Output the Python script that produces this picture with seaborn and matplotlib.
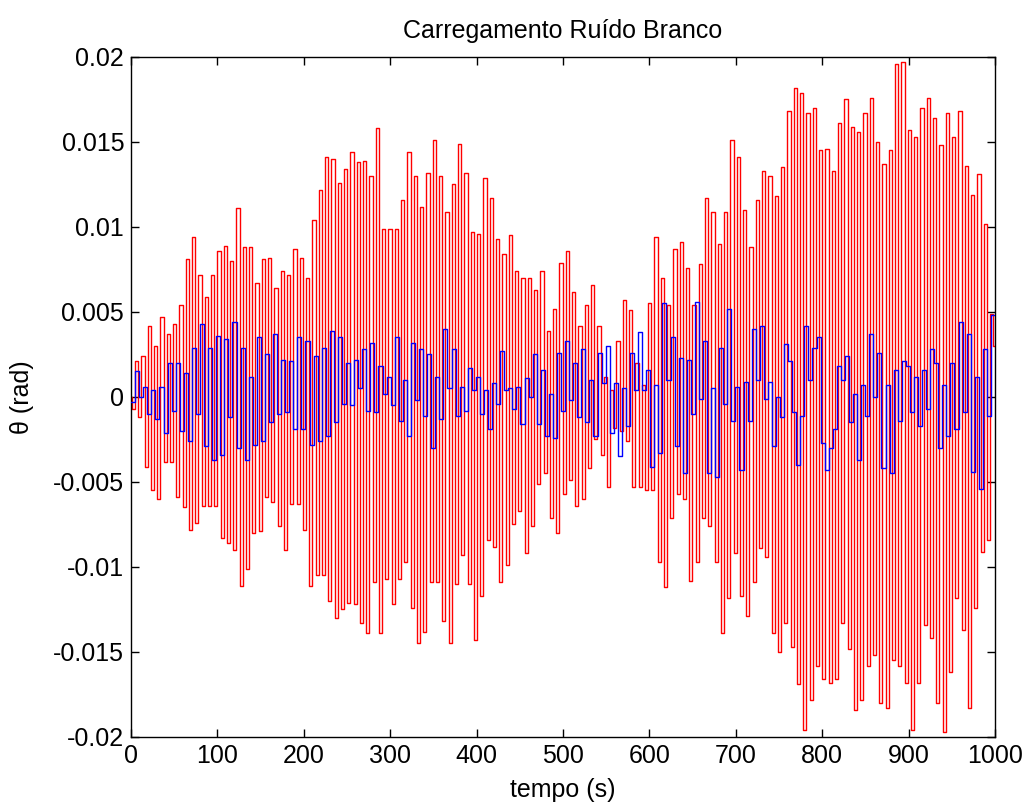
import numpy as np
import matplotlib
matplotlib.use("Agg")
import matplotlib.pyplot as plt
import seaborn as sns

# ---------------- data ----------------
# red series: per-cycle minima and maxima (rad)
red_bottoms = [
    -0.0007, -0.0012, -0.0041, -0.0055, -0.0060, -0.0038, -0.0038, -0.0059, -0.0065, -0.0078,
    -0.0074, -0.0064, -0.0064, -0.0064, -0.0083, -0.0086, -0.0090, -0.0111, -0.0101, -0.0080,
    -0.0079, -0.0059, -0.0062, -0.0076, -0.0090, -0.0063, -0.0063, -0.0078, -0.0111, -0.0105,
    -0.0105,
    -0.0120, -0.0130, -0.0125, -0.0121, -0.0122, -0.0133, -0.0139, -0.0109, -0.0139, -0.0107,
    -0.0122, -0.0107, -0.0097, -0.0124, -0.0145, -0.0138, -0.0109, -0.0109, -0.0132, -0.0145,
    -0.0110, -0.0093, -0.0110, -0.0143, -0.0117, -0.0084, -0.0088, -0.0109, -0.0099, -0.0075,
    -0.0067, -0.0092, -0.0076,
    -0.0051, -0.0045, -0.0071, -0.0080, -0.0057, -0.0049, -0.0064, -0.0060, -0.0042, -0.0025,
    -0.0034, -0.0053, -0.0018, -0.0020, -0.0026, -0.0053, -0.0053, -0.0055, -0.0055, -0.0097,
    -0.0112, -0.0071, -0.0057, -0.0060, -0.0108, -0.0097, -0.0071, -0.0076, -0.0097, -0.0139,
    -0.0118, -0.0092, -0.0117, -0.0129, -0.0109,
    -0.0089, -0.0094, -0.0139, -0.0150, -0.0133, -0.0147, -0.0169, -0.0196, -0.0178, -0.0158,
    -0.0166, -0.0168, -0.0166, -0.0133, -0.0148, -0.0184, -0.0178, -0.0158, -0.0152, -0.0180,
    -0.0183, -0.0155, -0.0158, -0.0168, -0.0196, -0.0168, -0.0134, -0.0142, -0.0180, -0.0197,
    -0.0162, -0.0118, -0.0137, -0.0183, -0.0124, -0.0091, -0.0084,
]
red_tops = [
    0.0021, 0.0024, 0.0042, 0.0030, 0.0047, 0.0037, 0.0043, 0.0054, 0.0081, 0.0094,
    0.0072, 0.0059, 0.0072, 0.0086, 0.0089, 0.0080, 0.0111, 0.0088, 0.0088, 0.0067,
    0.0081, 0.0082, 0.0064, 0.0074, 0.0072, 0.0087, 0.0082, 0.0070, 0.0104, 0.0122,
    0.0141,
    0.0140, 0.0126, 0.0134, 0.0144, 0.0138, 0.0139, 0.0130, 0.0158, 0.0099, 0.0099,
    0.0099, 0.0116, 0.0144, 0.0130, 0.0112, 0.0132, 0.0151, 0.0130, 0.0109, 0.0125,
    0.0149, 0.0132, 0.0097, 0.0096, 0.0129, 0.0117, 0.0093, 0.0084, 0.0095, 0.0074,
    0.0070, 0.0070, 0.0063,
    0.0074, 0.0039, 0.0052, 0.0079, 0.0086, 0.0062, 0.0042, 0.0054, 0.0066, 0.0042,
    0.0012, 0.0004, 0.0033, 0.0057, 0.0051, 0.0020, 0.0007, 0.0055, 0.0094, 0.0070,
    0.0054, 0.0087, 0.0091, 0.0076, 0.0054, 0.0078, 0.0117, 0.0109, 0.0090, 0.0109,
    0.0151, 0.0141, 0.0110, 0.0088, 0.0116,
    0.0133, 0.0130, 0.0118, 0.0135, 0.0168, 0.0182, 0.0179, 0.0167, 0.0170, 0.0145,
    0.0146, 0.0133, 0.0161, 0.0175, 0.0159, 0.0156, 0.0167, 0.0176, 0.0150, 0.0137,
    0.0145, 0.0196, 0.0197, 0.0157, 0.0153, 0.0170, 0.0176, 0.0164, 0.0148, 0.0167,
    0.0153, 0.0168, 0.0136, 0.0119, 0.0131, 0.0102, 0.0049,
]
red_start = 0.0
red_end = 0.0030

# blue series: successive held levels (rad)
blue_vals = [
    -0.0003, 0.0015, 0.0000, 0.0006, -0.0010, 0.0004, -0.0013, 0.0006, -0.0021, 0.0020,
    -0.0008, 0.0020, -0.0020, 0.0014, -0.0026, 0.0029, -0.0010, 0.0043, -0.0029, 0.0029,
    -0.0037, 0.0036, -0.0034, 0.0034, -0.0012, 0.0044, -0.0030,
    0.0029, -0.0037, 0.0012, -0.0028, 0.0035, -0.0026, 0.0025, -0.0015, 0.0037, -0.0010,
    0.0022, -0.0009, 0.0021, -0.0019, 0.0035, -0.0019, 0.0033, -0.0028, 0.0024, -0.0026,
    0.0029, -0.0023, 0.0039, -0.0015, 0.0035, -0.0004, 0.0020, -0.0005,
    0.0022, 0.0005, 0.0028, -0.0008, 0.0032, -0.0009, 0.0018, 0.0002, 0.0012, -0.0005,
    0.0035, -0.0014, 0.0010, -0.0023, 0.0032, -0.0002, 0.0028, -0.0011, 0.0025, -0.0030,
    0.0012, -0.0013, 0.0040, 0.0005, 0.0028, -0.0011, 0.0006, -0.0008,
    0.0017, 0.0004, 0.0012, -0.0010, 0.0004, -0.0019, 0.0008, -0.0004, 0.0027, 0.0004,
    0.0005, -0.0007, 0.0006, -0.0016, 0.0011, 0.0000, 0.0025, -0.0016, 0.0016, -0.0023,
    0.0002, -0.0024, 0.0026, -0.0008, 0.0033, -0.0002, 0.0020, -0.0012,
    0.0028, -0.0015, 0.0010, -0.0023, 0.0026, 0.0008, 0.0030, -0.0021, 0.0008, -0.0035,
    0.0005, -0.0017, 0.0026, 0.0004, 0.0038, 0.0004, 0.0016, -0.0041, 0.0007, -0.0033,
    0.0055, 0.0010, 0.0035, -0.0029, 0.0023, -0.0045, 0.0022, -0.0010,
    0.0056, -0.0001, 0.0033, -0.0045, 0.0005, -0.0047, 0.0029, -0.0004, 0.0052, -0.0014,
    0.0006, -0.0043, 0.0009, -0.0014, 0.0040, 0.0010, 0.0042, -0.0001, 0.0009, -0.0029,
    0.0000, -0.0012,
    0.0031, 0.0021, -0.0009, -0.0040, -0.0011, 0.0042, 0.0010, 0.0029, 0.0035, -0.0027,
    -0.0043, -0.0030, -0.0019, 0.0018, 0.0010, 0.0024, -0.0015, 0.0002, -0.0037, 0.0007,
    -0.0011, 0.0037, 0.0000, 0.0026, -0.0042, 0.0007, -0.0045, 0.0016, -0.0014, 0.0021,
    0.0018, -0.0009, 0.0012, -0.0017, 0.0016, -0.0007, 0.0028, 0.0020, -0.0030, 0.0007,
    -0.0023, 0.0020, -0.0019, 0.0044, -0.0009, 0.0037, -0.0044, 0.0012, -0.0054, 0.0028,
    -0.0011, 0.0048,
]

x_ticks = [0, 100, 200, 300, 400, 500, 600, 700, 800, 900, 1000]
y_ticks = [-0.02, -0.015, -0.01, -0.005, 0, 0.005, 0.01, 0.015, 0.02]
y_tick_labels = ["-0.02", "-0.015", "-0.01", "-0.005", "0", "0.005", "0.01", "0.015", "0.02"]
title_text = "Carregamento Ruído Branco"
x_label = "tempo (s)"
y_label = "θ (rad)"

# timing of the red oscillation (s)
red_period = 7.33
red_first_bottom = 2.7
red_first_top = 6.6
t_end = 1000.0

# ---------------- build series ----------------
k = np.arange(len(red_tops))
t_bot = red_first_bottom + red_period * k
t_top = red_first_top + red_period * k
t_red = np.concatenate([[0.0], np.column_stack([t_bot, t_top]).ravel(), [t_end]])
v_red = np.concatenate([[red_start], np.column_stack([red_bottoms, red_tops]).ravel(), [red_end]])

t_blue = np.linspace(0.0, t_end, len(blue_vals) + 1)
v_blue = np.array(blue_vals + [blue_vals[-1]])

# ---------------- style ----------------
sns.set_theme(style="white")
plt.rcParams["font.family"] = ["Liberation Sans", "DejaVu Sans"]

fig = plt.figure(figsize=(10.24, 8.05), dpi=100)
ax = fig.add_axes([0.128, 0.0845, 0.8437, 0.8447])

sns.lineplot(x=t_red, y=v_red, sort=False, estimator=None, color="#ff0000",
             linewidth=1.0, drawstyle="steps-mid", ax=ax, zorder=2)
sns.lineplot(x=t_blue, y=v_blue, sort=False, estimator=None, color="#0000ff",
             linewidth=1.0, drawstyle="steps-post", ax=ax, zorder=3)

ax.set_xlim(0, 1000)
ax.set_ylim(-0.02, 0.02)
ax.set_xticks(x_ticks)
ax.set_xticklabels([str(v) for v in x_ticks])
ax.set_yticks(y_ticks)
ax.set_yticklabels(y_tick_labels)

ax.tick_params(direction="in", top=True, right=True, bottom=True, left=True,
               length=6, width=1, colors="black", labelsize=18, pad=5)
for s in ax.spines.values():
    s.set_color("black")
    s.set_linewidth(1.0)
    s.set_visible(True)
ax.grid(False)
ax.set_facecolor("white")

ax.set_title(title_text, fontsize=18, pad=14, color="black")
ax.set_xlabel(x_label, fontsize=18, labelpad=7, color="black")
ax.set_ylabel(y_label, fontsize=18, labelpad=14, color="black")

fig.savefig("out.png", dpi=100, facecolor="white")
